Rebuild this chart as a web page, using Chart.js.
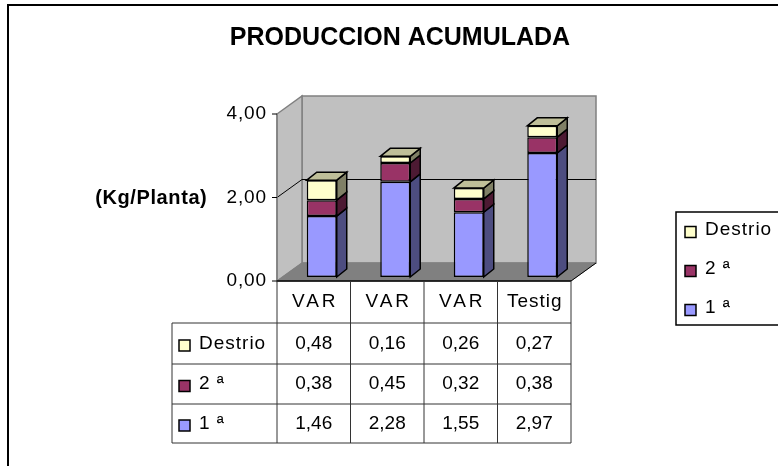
<!DOCTYPE html>
<html>
<head>
<meta charset="utf-8">
<script src="https://cdn.jsdelivr.net/npm/chart.js@4/dist/chart.umd.min.js"></script>
<style>
  html, body { margin: 0; padding: 0; background: #fff; }
  #wrap { width: 778px; height: 466px; position: relative; }
</style>
</head>
<body>
<div id="wrap"><canvas id="chart"></canvas></div>
<script>
// data
const categories = ['VAR', 'VAR', 'VAR', 'Testig'];
const primera = [1.46, 2.28, 1.55, 2.97];
const segunda = [0.38, 0.45, 0.32, 0.38];
const destrio = [0.48, 0.16, 0.26, 0.27];
const yTicks = [0, 2, 4];
const yTickLabels = ['0,00', '2,00', '4,00'];

const seriesNames = ['1 ª', '2 ª', 'Destrio'];
const seriesColors = ['#9999FF', '#993366', '#FFFFCC'];
const sideColors = ['#4D4D80', '#4D1A33', '#808066'];
const topColors = ['#7373BF', '#73264D', '#BFBF99'];

const FONT = '"Liberation Sans", Arial, sans-serif';
// offsets of the front plane and back wall from the bar plane
const FRONT = { x: -8, y: 4 };
const BACK = { x: 17, y: -14 };
const BAR_DEPTH = { x: 10, y: -8 };
const ROWS = [281, 323, 364, 404, 443];   // table row borders
const TABLE_LEFT = 172;

function fmt(v) { return v.toFixed(2).replace('.', ','); }

function txt(ctx, s, x, y, font, align, spacing) {
    ctx.save();
    ctx.font = font;
    ctx.fillStyle = '#000';
    ctx.textBaseline = 'middle';
    ctx.letterSpacing = (spacing || 0) + 'px';
    let w = ctx.measureText(s).width - (spacing || 0);
    let left = x;
    if (align === 'center') left = x - w / 2;
    if (align === 'right') left = x - w;
    ctx.textAlign = 'left';
    ctx.fillText(s, left, y);
    ctx.restore();
}

function poly(ctx, pts, fill, stroke, lw) {
    ctx.beginPath();
    ctx.moveTo(pts[0][0], pts[0][1]);
    for (let i = 1; i < pts.length; i++) ctx.lineTo(pts[i][0], pts[i][1]);
    ctx.closePath();
    if (fill) { ctx.fillStyle = fill; ctx.fill(); }
    if (stroke) { ctx.strokeStyle = stroke; ctx.lineWidth = lw || 1; ctx.stroke(); }
}

function line(ctx, x1, y1, x2, y2, color, lw) {
    ctx.beginPath();
    ctx.moveTo(x1, y1);
    ctx.lineTo(x2, y2);
    ctx.strokeStyle = color;
    ctx.lineWidth = lw || 1;
    ctx.stroke();
}

function swatch(ctx, x, yc, color) {
    ctx.fillStyle = color;
    ctx.fillRect(x, yc - 5.5, 11, 11);
    ctx.strokeStyle = '#000';
    ctx.lineWidth = 1.5;
    ctx.strokeRect(x, yc - 5.5, 11, 11);
}

const excel3d = {
    id: 'excel3d',
    beforeDatasetsDraw(chart) {
        const ctx = chart.ctx;
        const ca = chart.chartArea;
        const ys = chart.scales.y;
        const fy = v => ys.getPixelForValue(v) + FRONT.y;
        const by = v => ys.getPixelForValue(v) + BACK.y;
        const FL = ca.left + FRONT.x, FR = ca.right + FRONT.x;
        const BL = ca.left + BACK.x, BR = ca.right + BACK.x;
        const top = yTicks[yTicks.length - 1];

        ctx.save();
        // outer frame
        ctx.strokeStyle = '#000';
        ctx.lineWidth = 2;
        ctx.strokeRect(8, 5, 800, 500);

        // back wall
        poly(ctx, [[BL, by(top)], [BR, by(top)], [BR, by(0)], [BL, by(0)]], '#C0C0C0', '#808080', 1.5);
        // side wall
        poly(ctx, [[FL, fy(top)], [BL, by(top)], [BL, by(0)], [FL, fy(0)]], '#C0C0C0', '#808080', 1.5);
        // floor
        poly(ctx, [[FL, fy(0)], [FR, fy(0)], [BR, by(0)], [BL, by(0)]], '#808080', '#808080', 1);
        line(ctx, FR, fy(0), BR, by(0), '#000', 1);

        // gridlines
        yTicks.forEach(v => {
            if (v === 0 || v === top) return;
            line(ctx, BL, by(v), BR, by(v), '#000', 1);
            line(ctx, FL, fy(v), BL, by(v), '#000', 1);
        });

        // front axis and ticks
        line(ctx, FL, fy(0), FL, fy(top), '#808080', 1.5);
        yTicks.forEach(v => line(ctx, FL - 5, fy(v), FL, fy(v), '#000', 1));
        ctx.restore();
    },
    afterDatasetsDraw(chart) {
        const ctx = chart.ctx;
        const ca = chart.chartArea;
        const ys = chart.scales.y;
        const xs = chart.scales.x;
        const fy = v => ys.getPixelForValue(v) + FRONT.y;
        const FL = ca.left + FRONT.x, FR = ca.right + FRONT.x;
        const nSeries = chart.data.datasets.length;

        ctx.save();
        // sides and tops of the columns
        chart.data.datasets.forEach((ds, di) => {
            const meta = chart.getDatasetMeta(di);
            meta.data.forEach(el => {
                const x2 = el.x + el.width / 2, x1 = el.x - el.width / 2;
                const yt = el.y, yb = el.base;
                poly(ctx, [[x2, yb], [x2 + BAR_DEPTH.x, yb + BAR_DEPTH.y], [x2 + BAR_DEPTH.x, yt + BAR_DEPTH.y], [x2, yt]],
                    sideColors[di], '#000', 1.5);
                if (di === nSeries - 1) {
                    poly(ctx, [[x1, yt], [x1 + BAR_DEPTH.x, yt + BAR_DEPTH.y], [x2 + BAR_DEPTH.x, yt + BAR_DEPTH.y], [x2, yt]],
                        topColors[di], '#000', 1.5);
                }
            });
        });

        // y tick labels
        yTicks.forEach((v, i) => txt(ctx, yTickLabels[i], FL - 11, fy(v), '19px ' + FONT, 'right', 0.8));

        // axis title
        txt(ctx, '(Kg/Planta)', 151, fy(2) + 1, 'bold 20px ' + FONT, 'center', 0.6);

        // title
        txt(ctx, 'PRODUCCION ACUMULADA', 400, 38, 'bold 25px ' + FONT, 'center', 0);

        // data table
        const colW = (ca.right - ca.left) / categories.length;
        const tb = ROWS[ROWS.length - 1];
        line(ctx, FL, ROWS[0], FR, ROWS[0], '#000', 1.5);
        for (let i = 0; i <= categories.length; i++) {
            line(ctx, FL + i * colW, ROWS[0], FL + i * colW, tb, '#333', 1);
        }
        for (let r = 1; r < ROWS.length; r++) {
            line(ctx, TABLE_LEFT, ROWS[r], FR, ROWS[r], '#333', 1);
        }
        line(ctx, TABLE_LEFT, ROWS[1], TABLE_LEFT, tb, '#333', 1);

        categories.forEach((c, i) => {
            txt(ctx, c, xs.getPixelForValue(i) + FRONT.x, (ROWS[0] + ROWS[1]) / 2, '19px ' + FONT, 'center', c === 'VAR' ? 3 : 1);
        });
        for (let k = 0; k < nSeries; k++) {
            const di = nSeries - 1 - k;
            const yc = (ROWS[k + 1] + ROWS[k + 2]) / 2;
            swatch(ctx, TABLE_LEFT + 7, yc + 2, seriesColors[di]);
            txt(ctx, chart.data.datasets[di].label, TABLE_LEFT + 27, yc, '19px ' + FONT, 'left', 1);
            chart.data.datasets[di].data.forEach((v, i) => {
                txt(ctx, fmt(v), xs.getPixelForValue(i) + FRONT.x, yc, '19px ' + FONT, 'center', 0);
            });
        }

        // legend
        ctx.strokeStyle = '#000';
        ctx.lineWidth = 1.5;
        ctx.strokeRect(676, 212, 200, 113);
        for (let k = 0; k < nSeries; k++) {
            const di = nSeries - 1 - k;
            const yc = 231 + k * 39;
            swatch(ctx, 685, yc + 1, seriesColors[di]);
            txt(ctx, chart.data.datasets[di].label, 705, yc - 1, '19px ' + FONT, 'left', 1);
        }
        ctx.restore();
    }
};

const makeSet = (i, values) => ({
    label: seriesNames[i],
    data: values,
    backgroundColor: seriesColors[i],
    borderColor: '#000',
    borderWidth: 1.5,
    borderSkipped: false,
    categoryPercentage: 1,
    barPercentage: 0.408
});

new Chart(document.getElementById('chart'), {
    type: 'bar',
    data: {
        labels: categories,
        datasets: [makeSet(0, primera), makeSet(1, segunda), makeSet(2, destrio)]
    },
    options: {
        responsive: true,
        maintainAspectRatio: false,
        animation: false,
        layout: { padding: { left: 285, right: 199, top: 110, bottom: 189 } },
        scales: {
            x: { display: false, stacked: true },
            y: { display: false, stacked: true, min: 0, max: 4, ticks: { stepSize: 2 } }
        },
        plugins: {
            legend: { display: false },
            title: { display: false },
            tooltip: { enabled: false }
        }
    },
    plugins: [excel3d]
});
</script>
</body>
</html>
